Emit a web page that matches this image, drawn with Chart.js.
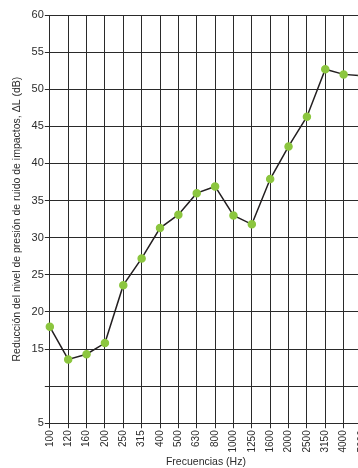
<!DOCTYPE html>
<html>
<head>
<meta charset="utf-8">
<script src="https://cdn.jsdelivr.net/npm/chart.js@4"></script>
<style>
  html, body { margin: 0; padding: 0; background: #fff; overflow: hidden; }
  #wrap { position: relative; width: 380px; height: 468px; }
</style>
</head>
<body>
<div id="wrap"><canvas id="chart" width="380" height="468"></canvas></div>
<script>
// frequency bands (Hz) and measured reduction ΔL (dB)
const freqLabels = ['100', '120', '160', '200', '250', '315', '400', '500', '630',
                    '800', '1000', '1250', '1600', '2000', '2500', '3150', '4000', '5000'];
const reduction = [18.0, 13.6, 14.3, 15.8, 23.6, 27.2, 31.3, 33.1, 36.0,
                   36.9, 33.0, 31.8, 37.9, 42.3, 46.3, 52.7, 52.0, 51.8];
const yMin = 5, yMax = 60, yStep = 5;
const hiddenTicks = [10];

const gridColor = '#2a2a2a';
const textColor = '#2b2b2b';
const family = '"Liberation Sans", Arial, sans-serif';

new Chart(document.getElementById('chart'), {
  type: 'line',
  data: {
    labels: freqLabels,
    datasets: [{
      data: reduction,
      borderColor: '#231f20',
      borderWidth: 1.5,
      pointBackgroundColor: '#8cc63f',
      pointBorderColor: '#8cc63f',
      pointRadius: 3.5,
      tension: 0
    }]
  },
  options: {
    responsive: false,
    animation: false,
    layout: { padding: { top: 15, right: 18, left: 11, bottom: 0 } },
    plugins: { legend: { display: false }, tooltip: { enabled: false } },
    scales: {
      x: {
        offset: false,
        grid: { color: gridColor, lineWidth: 1, tickLength: 5 },
        border: { color: gridColor },
        ticks: {
          color: textColor, font: { family, size: 10 }, minRotation: 90, maxRotation: 90,
          autoSkip: false, padding: 2
        },
        title: {
          display: true, text: 'Frecuencias (Hz)', color: textColor,
          font: { family, size: 10.5, lineHeight: 1 }, padding: { top: 2, bottom: 1 }
        }
      },
      y: {
        min: yMin, max: yMax,
        grid: { color: gridColor, lineWidth: 1, tickLength: 5 },
        border: { color: gridColor },
        ticks: {
          stepSize: yStep, color: textColor, font: { family, size: 11 }, padding: 1,
          callback: v => hiddenTicks.includes(v) ? '' : v
        },
        title: {
          display: true, text: 'Reducción del nivel de presión de ruido de impactos, ΔL (dB)',
          color: textColor, font: { family, size: 10.5 }, padding: { top: 0, bottom: 7 }
        }
      }
    }
  }
});
</script>
</body>
</html>
